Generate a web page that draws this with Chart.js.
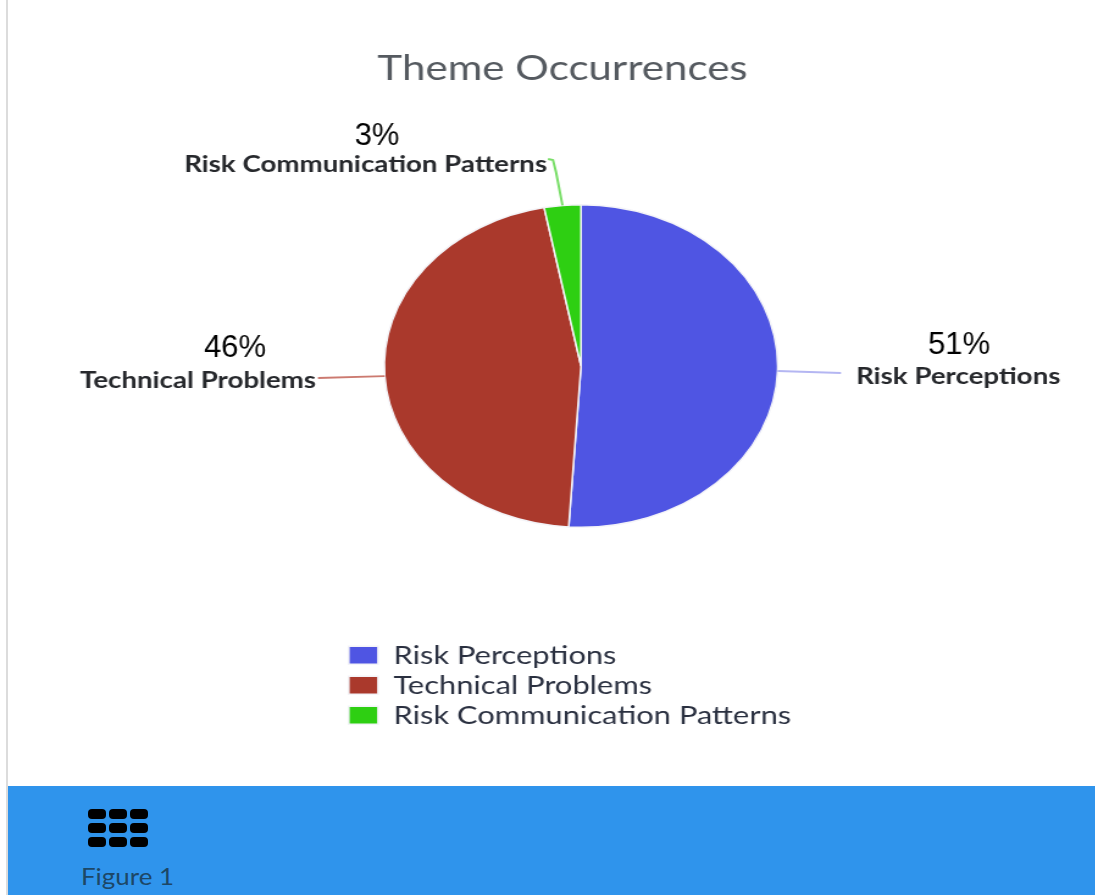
<!DOCTYPE html>
<html>
<head>
<meta charset="utf-8">
<title>Theme Occurrences</title>
<script src="https://cdn.jsdelivr.net/npm/chart.js@4/dist/chart.umd.min.js"></script>
<style>
  html, body { margin: 0; padding: 0; background: #fff; overflow: hidden; width: 1095px; height: 895px; }
  #stage { position: absolute; left: 0; top: 0; width: 1095px; height: 786px; overflow: hidden; }
  #pie { position: absolute; left: 0; top: 0; transform: scaleX(1.22); transform-origin: 0 0; }
  #edge { position: absolute; left: 6px; top: 0; width: 2px; height: 895px; background: #dcdcdc; }
  #band { position: absolute; left: 8px; top: 786px; right: 0; bottom: 0; background: #2f94ec; }
  #icon { position: absolute; left: 80px; top: 23px; display: grid; grid-template-columns: repeat(3, 18px); grid-auto-rows: 10px; column-gap: 3px; row-gap: 4px; }
  #icon i { display: block; background: #000; border-radius: 4px; }
  #fig { position: absolute; left: 73px; top: 75px; font: 24px Lato, sans-serif; color: #1d4766; white-space: nowrap; transform: scaleX(1.08); transform-origin: 0 0; }
</style>
</head>
<body>
<div id="stage"><canvas id="pie" width="898" height="786"></canvas></div>
<div id="edge"></div>
<div id="band">
  <div id="icon"><i></i><i></i><i></i><i></i><i></i><i></i><i></i><i></i><i></i></div>
  <div id="fig">Figure 1</div>
</div>
<script>
// Theme shares, in percent
const categories = ['Risk Perceptions', 'Technical Problems', 'Risk Communication Patterns'];
const shares = [51, 46, 3];
const sliceColors = ['#4f55e3', '#aa392c', '#2ecf12'];
const leaderColors = ['#b4b6f2', '#cc7a70', '#79de68'];
const chartTitle = 'Theme Occurrences';

// The canvas is widened by this factor in CSS, which turns the pie into an ellipse.
const STRETCH = 1.22;
const sx = x => x / STRETCH;

// Page-space placement of each slice's callout
const callouts = [
  { leader: [[841, 373]], name: [856, 377, 'left'], pct: [959, 345] },
  { leader: [[318, 378]], name: [316, 381, 'right'], pct: [235, 348] },
  { leader: [[556, 172], [553, 160], [548, 159]], name: [547, 165, 'right'], pct: [377, 136] }
];

const placement = {
  id: 'placement',
  afterLayout(chart) {
    // Pie box: centre (581, 366), vertical radius 162
    const cx = sx(581), cy = 366, r = 162;
    chart.chartArea = { left: cx - r, right: cx + r, top: cy - r, bottom: cy + r, width: 2 * r, height: 2 * r };
    // Stacked legend under the pie
    const lg = chart.legend, w = lg.width, h = lg.height;
    lg.left = sx(343); lg.right = lg.left + w;
    lg.top = 638; lg.bottom = lg.top + h;
    // Title sits a little left of the canvas centre
    const t = chart.titleBlock, tw = t.right - t.left;
    t.left = sx(562.5) - tw / 2; t.right = t.left + tw;
    t.top = 50; t.bottom = t.top + t.height;
  }
};

const callout = {
  id: 'callout',
  afterDatasetsDraw(chart) {
    const ctx = chart.ctx;
    const arcs = chart.getDatasetMeta(0).data;
    arcs.forEach((arc, i) => {
      const c = callouts[i];
      const mid = (arc.startAngle + arc.endAngle) / 2;
      ctx.save();
      // Leader line from the slice rim
      ctx.strokeStyle = leaderColors[i];
      ctx.lineWidth = 2;
      ctx.beginPath();
      ctx.moveTo(arc.x + arc.outerRadius * Math.cos(mid), arc.y + arc.outerRadius * Math.sin(mid));
      c.leader.forEach(p => ctx.lineTo(sx(p[0]), p[1]));
      ctx.stroke();
      // Slice name, stretched along with the pie
      ctx.fillStyle = '#26282c';
      ctx.font = 'bold 22.7px Lato, sans-serif';
      ctx.textBaseline = 'middle';
      ctx.textAlign = c.name[2];
      ctx.fillText(categories[i], sx(c.name[0]), c.name[1]);
      // Percentage, drawn at natural proportions
      ctx.scale(1 / STRETCH, 1);
      ctx.fillStyle = '#000';
      ctx.font = '31px "Liberation Sans", Arial, sans-serif';
      ctx.textAlign = 'center';
      ctx.fillText(shares[i] + '%', c.pct[0], c.pct[1]);
      ctx.restore();
    });
  }
};

new Chart(document.getElementById('pie'), {
  type: 'pie',
  data: {
    labels: categories,
    datasets: [{
      data: shares,
      backgroundColor: sliceColors,
      borderColor: '#f4f4f8',
      borderWidth: 1.5
    }]
  },
  plugins: [placement, callout],
  options: {
    responsive: false,
    animation: false,
    plugins: {
      tooltip: { enabled: false },
      title: {
        display: true,
        text: chartTitle,
        color: '#555a60',
        font: { family: 'Lato, sans-serif', size: 34.5, weight: 'normal', lineHeight: 1.1 },
        padding: 0
      },
      legend: {
        position: 'left',
        align: 'start',
        labels: {
          boxWidth: 24,
          boxHeight: 18,
          padding: 4.7,
          color: '#2a3040',
          font: { family: 'Lato, sans-serif', size: 25.3, lineHeight: 1 }
        }
      }
    }
  }
});
</script>
</body>
</html>
